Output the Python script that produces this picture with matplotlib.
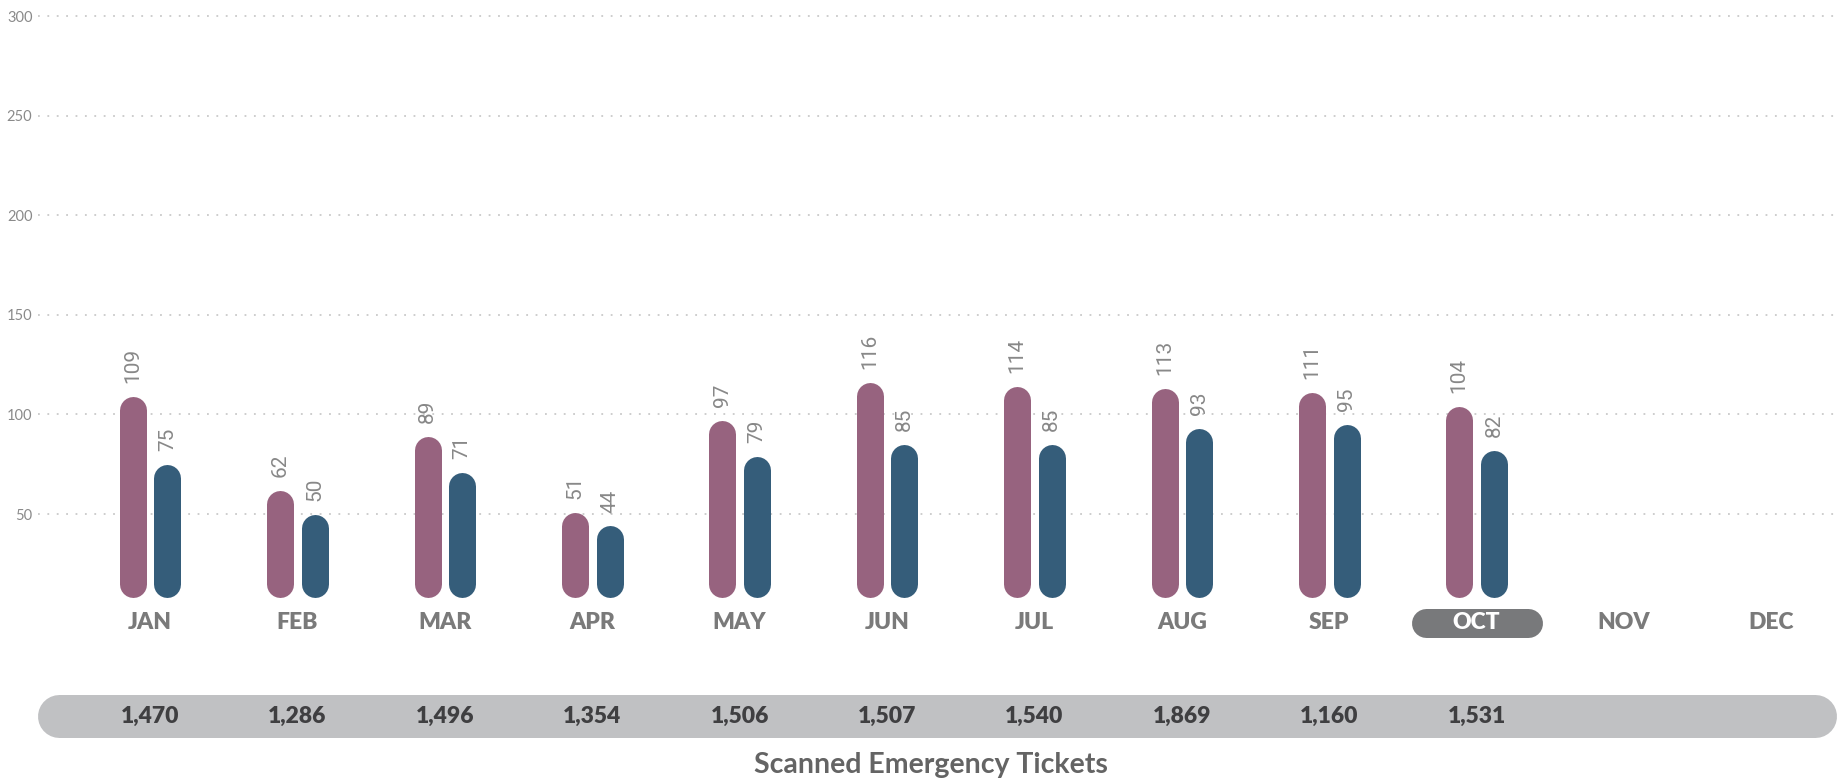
import matplotlib.pyplot as plt

# monthly counts (two series) and the yearly running totals strip
months = ['JAN', 'FEB', 'MAR', 'APR', 'MAY', 'JUN',
          'JUL', 'AUG', 'SEP', 'OCT', 'NOV', 'DEC']
series_a = [109, 62, 89, 51, 97, 116, 114, 113, 111, 104]
series_b = [75, 50, 71, 44, 79, 85, 85, 93, 95, 82]
totals = [1470, 1286, 1496, 1354, 1506, 1507, 1540, 1869, 1160, 1531]
current = 'OCT'
yticks = [50, 100, 150, 200, 250, 300]
title = 'Scanned Emergency Tickets'

COL_A = '#97637f'
COL_B = '#355d7a'
GRAY_TXT = '#8a8a8a'
FONT = ['Lato', 'DejaVu Sans']

W_PX, H_PX = 1838, 780
X0, STEP = 150.0, 147.4          # pixel centre of JAN and month spacing
AX_L, AX_R = 38, W_PX            # plot area, pixels
Y0_PX, PX_PER_UNIT = 613.6, 1.992
YMAX = 305
BASE = 8.3                        # rounded bars start a bit above zero
PT = 72 / 100                     # points per pixel


def pill(a, x1, x2, y, h, color):
    # horizontal capsule drawn as a thick round-capped line (pixel units)
    a.plot([x1 + h / 2, x2 - h / 2], [y, y], color=color, lw=h * PT,
           solid_capstyle='round', zorder=1)


plt.rcParams['font.family'] = FONT

fig = plt.figure(figsize=(W_PX / 100, H_PX / 100), dpi=100)

# overlay axes in pixel units for the strip, labels and title
lay = fig.add_axes([0, 0, 1, 1])
lay.set_xlim(0, W_PX)
lay.set_ylim(H_PX, 0)
lay.axis('off')

# main bar axes
top_px = Y0_PX - YMAX * PX_PER_UNIT
ax = fig.add_axes([AX_L / W_PX, (H_PX - Y0_PX) / H_PX,
                   (AX_R - AX_L) / W_PX, (Y0_PX - top_px) / H_PX])
ax.patch.set_alpha(0)
ax.set_xlim((AX_L - X0) / STEP, (AX_R - X0) / STEP)
ax.set_ylim(0, YMAX)
for s in ax.spines.values():
    s.set_visible(False)
ax.set_xticks([])
ax.set_yticks(yticks)
ax.set_yticklabels([str(t) for t in yticks], color=GRAY_TXT, fontsize=10.5)
ax.tick_params(axis='y', length=0, pad=4)
ax.yaxis.grid(True, linestyle=(0, (1, 4.2)), color='#c9c9c9', linewidth=1.3)
ax.set_axisbelow(True)

bar_px = 27
off = 17.3 / STEP
r = bar_px / 2 / PX_PER_UNIT      # cap radius in value units

for vals, col, sign in [(series_a, COL_A, -1), (series_b, COL_B, 1)]:
    xs = [i + sign * off for i in range(len(vals))]
    ax.vlines(xs, BASE + r, [v - r for v in vals], colors=col,
              linewidth=bar_px * PT, capstyle='round', zorder=3)
    for xc, v in zip(xs, vals):
        ax.annotate(str(v), (xc, v), xytext=(0, 9.5), textcoords='offset points',
                    rotation=90, ha='center', va='bottom', fontsize=15,
                    family=['Roboto', 'Lato'], color='#888888')

# month labels, current month in a pill
for i, m in enumerate(months):
    x = X0 + STEP * i
    if m == current:
        pill(lay, x - 65, x + 66, 622.5, 29, '#78797b')
        col = 'white'
    else:
        col = '#7a7a7a'
    lay.text(x, 622.5, m, ha='center', va='center', fontsize=16.5,
             fontweight='heavy', color=col, zorder=2)

# totals strip
pill(lay, 37, 1836, 715.5, 43, '#c0c1c3')
for i, t in enumerate(totals):
    lay.text(X0 + STEP * i, 716.5, f'{t:,}', ha='center', va='center',
             fontsize=16.5, fontweight='heavy', color='#3f3f41', zorder=2)

lay.text(931, 765, title, ha='center', va='center', fontsize=20.5,
         fontweight='bold', color='#646464')

fig.savefig('out.png', dpi=100)
